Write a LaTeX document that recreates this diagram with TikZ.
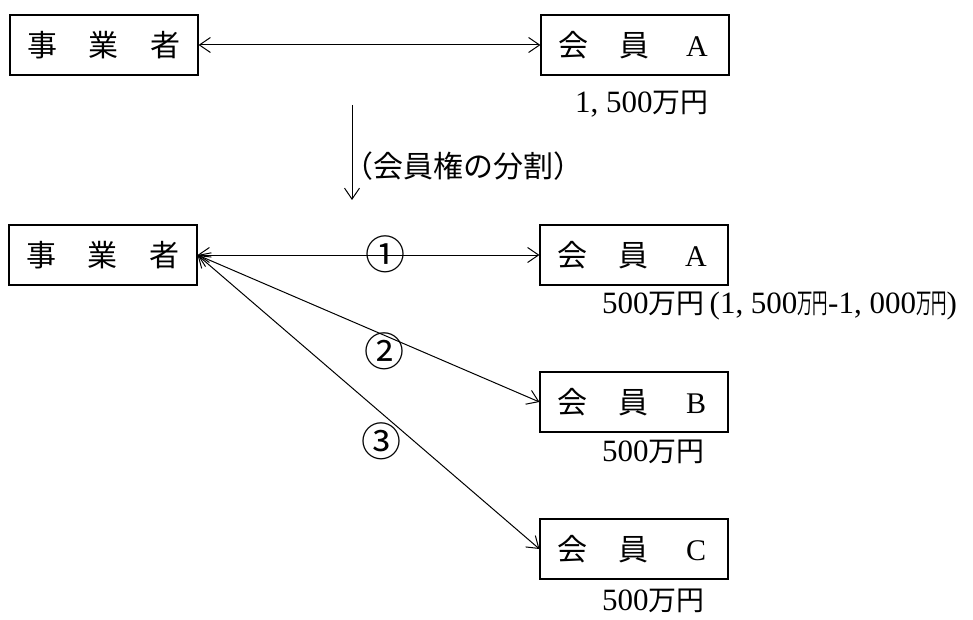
\documentclass[tikz,border=0pt]{standalone}
\usepackage{graphicx}
\usepackage{fontspec}
\setmainfont{Liberation Serif}
\newfontfamily\jp{Noto Sans CJK JP}
\newfontfamily\jpa{Noto Sans CJK JP}[Scale=0.9]
\usetikzlibrary{arrows.meta}
\newcommand\cellbox[1]{\makebox[62pt]{#1}}
\newcommand\halfw[1]{\scalebox{0.55}[1]{#1}}
\tikzset{
  box/.style={draw, line width=1.1pt, minimum width=188pt, minimum height=60pt, inner sep=0pt, font=\fontsize{30}{30}\selectfont},
  conn/.style={line width=1pt, {Straight Barb[length=11pt,width=15pt]}-{Straight Barb[length=11pt,width=15pt]}},
  amt/.style={anchor=west, inner sep=0pt, font=\fontsize{31}{31}\selectfont},
  num/.style={inner sep=0pt, font=\fontsize{40}{40}\selectfont\jp},
}
\begin{document}
\begin{tikzpicture}[x=1pt,y=-1pt]
\useasboundingbox (0,0) rectangle (973,620);
% top row
\node[box] (p1) at (104,45) {\cellbox{\jp 事}\cellbox{\jp 業}\cellbox{\jp 者}};
\node[box] (a1) at (635,45) {\cellbox{\jp 会}\cellbox{\jp 員}\cellbox{A}};
\draw[conn] (p1.east) -- (a1.west);
\node[amt] (m1) at (575,104) {1, 500{\jpa 万円}};
% split arrow
\coordinate (v1) at (352,105);
\coordinate (v2) at (352,200);
\draw[line width=1pt, -{Straight Barb[length=11pt,width=15pt]}] (v1) -- (v2);
\node[anchor=west, inner sep=0pt, font=\fontsize{30}{30}\selectfont\jp] (lab) at (343,166) {（会員権の分割）};
% second part
\node[box] (p2) at (103,255) {\cellbox{\jp 事}\cellbox{\jp 業}\cellbox{\jp 者}};
\node[box] (a2) at (634,255) {\cellbox{\jp 会}\cellbox{\jp 員}\cellbox{A}};
\node[box] (b) at (634,402) {\cellbox{\jp 会}\cellbox{\jp 員}\cellbox{B}};
\node[box] (c) at (634,549) {\cellbox{\jp 会}\cellbox{\jp 員}\cellbox{C}};
\draw[conn] (p2.east) -- (a2.west);
\draw[conn] (p2.east) -- (b.west);
\draw[conn] (p2.east) -- (c.west);
\node[num] (n1) at (385,254) {①};
\node[num] (n2) at (384,351) {②};
\node[num] (n3) at (381,441) {③};
\node[amt] (m2) at (602,306) {500{\jpa 万円}\,(1, 500\halfw{\jpa 万円}-1, 000\halfw{\jpa 万円})};
\node[amt] (mb) at (602,452) {500{\jpa 万円}};
\node[amt] (mc) at (602,601) {500{\jpa 万円}};
\end{tikzpicture}
\end{document}
